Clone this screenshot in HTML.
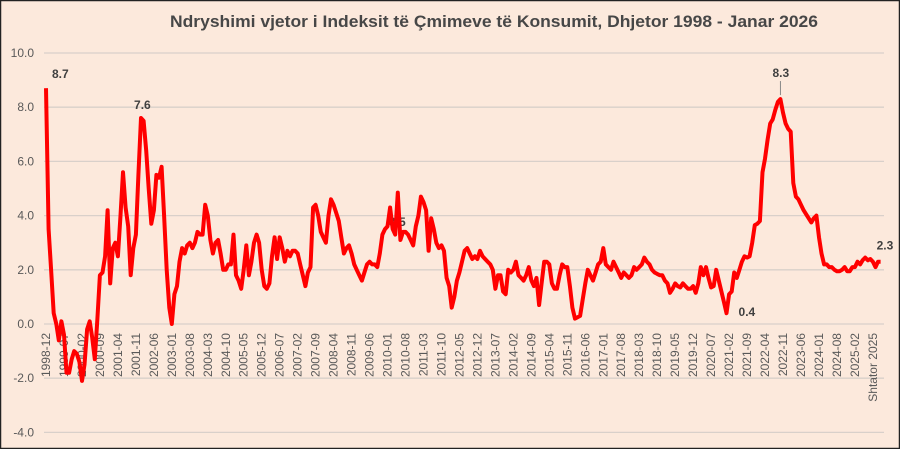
<!DOCTYPE html>
<html><head><meta charset="utf-8"><style>
html,body{margin:0;padding:0;background:#fce9dc;}
svg{display:block;font-family:"Liberation Sans Narrow","Liberation Sans",sans-serif;}
</style></head><body>
<svg id="chart" width="900" height="449" viewBox="0 0 900 449" xmlns="http://www.w3.org/2000/svg">
<rect x="0.5" y="0.5" width="899" height="448" fill="#fce9dc" stroke="#222" stroke-width="1.5"/>
<text x="170" y="27" textLength="648" lengthAdjust="spacingAndGlyphs" font-size="17" font-weight="bold" fill="#474747">Ndryshimi vjetor i Indeksit të Çmimeve të Konsumit, Dhjetor 1998 - Janar 2026</text>
<g id="grid"></g><g id="xlabels"></g><g id="ylabels"></g>
<text x="389" y="226" font-size="12" font-weight="bold" fill="#404040">3.5</text>
<path id="line" fill="none" stroke="#ff0000" stroke-width="4" stroke-linejoin="round"/>
<g id="annots"></g>
</svg>
<script>
const yTicks=[10,8,6,4,2,0,-2,-4];
const startYear=1998, startMonth=12;
const values=[8.7,
3.5,2.0,0.4,0.0,-0.6,0.1,-0.4,-1.8,-1.8,-1.3,-1.0,-1.1,
-1.4,-2.1,-1.5,-0.2,0.1,-0.5,-1.3,0.2,1.8,1.9,2.5,4.2,
1.5,2.8,3.0,2.5,4.0,5.6,4.3,3.6,1.8,2.8,3.3,5.5,
7.6,7.5,6.4,5.0,3.7,4.2,5.5,5.4,5.8,4.0,2.0,0.6,
0.0,1.1,1.4,2.3,2.8,2.6,2.9,3.0,2.8,3.0,3.4,3.3,
3.3,4.4,4.0,3.1,2.6,3.0,3.1,2.6,2.0,2.0,2.2,2.2,
3.3,1.8,1.6,1.3,2.0,2.9,1.8,2.3,3.0,3.3,3.0,2.0,
1.4,1.3,1.5,2.5,3.2,2.4,3.2,2.8,2.3,2.7,2.5,2.7,
2.7,2.6,2.2,1.8,1.4,1.9,2.1,4.3,4.4,4.0,3.4,3.2,
3.0,4.0,4.6,4.4,4.1,3.8,3.2,2.6,2.8,2.9,2.6,2.2,
2.0,1.8,1.6,1.9,2.2,2.3,2.2,2.2,2.1,2.6,3.3,3.5,
3.6,4.3,3.5,3.3,4.85,3.1,3.4,3.4,3.3,3.1,2.9,3.6,
4.0,4.7,4.5,4.2,2.7,3.9,3.5,3.0,2.8,2.9,2.7,1.7,
1.4,0.6,1.0,1.6,1.9,2.3,2.7,2.8,2.6,2.4,2.5,2.4,
2.7,2.5,2.4,2.3,2.2,2.0,1.3,1.8,1.8,1.2,1.1,2.0,
1.9,2.0,2.3,1.8,1.7,1.6,1.8,2.1,1.6,1.4,1.7,0.7,
1.5,2.3,2.3,2.2,1.5,1.3,1.3,1.8,2.2,2.1,2.1,1.4,
0.6,0.2,0.25,0.3,0.9,1.5,2.0,1.8,1.6,1.9,2.2,2.3,
2.8,2.2,2.1,2.0,2.3,2.1,1.9,1.7,1.9,1.8,1.7,1.8,
2.1,2.0,2.1,2.2,2.45,2.3,2.2,2.0,1.9,1.85,1.8,1.8,
1.6,1.5,1.15,1.3,1.5,1.4,1.35,1.5,1.4,1.3,1.3,1.4,
1.15,1.5,2.1,1.8,2.1,1.7,1.35,1.4,2.0,1.6,1.2,0.8,
0.4,1.1,1.2,1.9,1.7,2.0,2.3,2.5,2.45,2.5,3.0,3.65,
3.7,3.8,5.6,6.1,6.8,7.4,7.55,7.9,8.2,8.3,7.8,7.4,
7.2,7.1,5.2,4.7,4.6,4.4,4.2,4.05,3.9,3.75,3.9,4.0,
3.2,2.6,2.2,2.2,2.1,2.1,2.0,1.95,1.95,2.0,2.1,1.95,
1.95,2.1,2.1,2.3,2.2,2.35,2.45,2.35,2.4,2.3,2.1,2.3,
2.3];
const tickLabels=["1998-12","1999-07","2000-02","2000-09","2001-04","2001-11","2002-06","2003-01","2003-08","2004-03","2004-10","2005-05","2005-12","2006-07","2007-02","2007-09","2008-04","2008-11","2009-06","2010-01","2010-08","2011-03","2011-10","2012-05","2012-12","2013-07","2014-02","2014-09","2015-04","2015-11","2016-06","2017-01","2017-08","2018-03","2018-10","2019-05","2019-12","2020-07","2021-02","2021-09","2022-04","2022-11","2023-06","2024-01","2024-08","2025-02","Shtator 2025"];
const tickDates=["1998-12","1999-07","2000-02","2000-09","2001-04","2001-11","2002-06","2003-01","2003-08","2004-03","2004-10","2005-05","2005-12","2006-07","2007-02","2007-09","2008-04","2008-11","2009-06","2010-01","2010-08","2011-03","2011-10","2012-05","2012-12","2013-07","2014-02","2014-09","2015-04","2015-11","2016-06","2017-01","2017-08","2018-03","2018-10","2019-05","2019-12","2020-07","2021-02","2021-09","2022-04","2022-11","2023-06","2024-01","2024-08","2025-03","2025-10"];
const annotations=[{i:0,t:"8.7"},{i:37,t:"7.6"},{i:286,t:"8.3"},{i:265,t:"0.4"},{i:325,t:"2.3"}];

const NS="http://www.w3.org/2000/svg";
const x0=46,dx=2.568,y0=324,dy=27.1;
function xs(i){return x0+i*dx;}
function ys(v){return y0-v*dy;}
function idx(d){const [y,m]=d.split("-").map(Number);return (y-startYear)*12+(m-startMonth);}
function mk(tag,attrs,parent){const e=document.createElementNS(NS,tag);for(const k in attrs)e.setAttribute(k,attrs[k]);parent.appendChild(e);return e;}
const grid=document.getElementById("grid"),yl=document.getElementById("ylabels"),xl=document.getElementById("xlabels"),an=document.getElementById("annots");
yTicks.forEach(v=>{
 const l=mk("line",{x1:44,x2:884,y1:ys(v),y2:ys(v),stroke:"#d9d0ca","stroke-width":1.3},grid);
 
 
 const t=mk("text",{x:34,y:ys(v)+4,"text-anchor":"end","font-size":12,fill:"#595959"},yl);
 
 
 t.textContent=v.toFixed(1);
});
tickLabels.forEach((lab,k)=>{
 const x=xs(idx(tickDates[k]))+4;
 const t=mk("text",{x:x,y:333,"text-anchor":"end","font-size":12,fill:"#595959",transform:`rotate(-90 ${x} 333)`},xl);
 
 
 t.textContent=lab;
});
document.getElementById("line").setAttribute("d",values.map((v,i)=>(i?"L":"M")+xs(i).toFixed(1)+" "+ys(v).toFixed(1)).join(""));
annotations.forEach(a=>{
 const x=xs(a.i),y=ys(values[a.i]);
 let tx=x+6,ty=y-10;
 if(a.i===286){tx=x-8;ty=y-22;const l=mk("line",{x1:x,x2:x,y1:y-4,y2:y-18,stroke:"#888","stroke-width":1},an);}
 if(a.i===265){tx=x+12;ty=y+3;}
 if(a.i===325){tx=x-4;ty=y-12;}
 if(a.i===37){tx=x-7;ty=y-9;}
 const t=mk("text",{x:tx,y:ty,"font-size":12,"font-weight":"bold",fill:"#404040"},an);
 
 
 t.textContent=a.t;
});
</script>
</body></html>
